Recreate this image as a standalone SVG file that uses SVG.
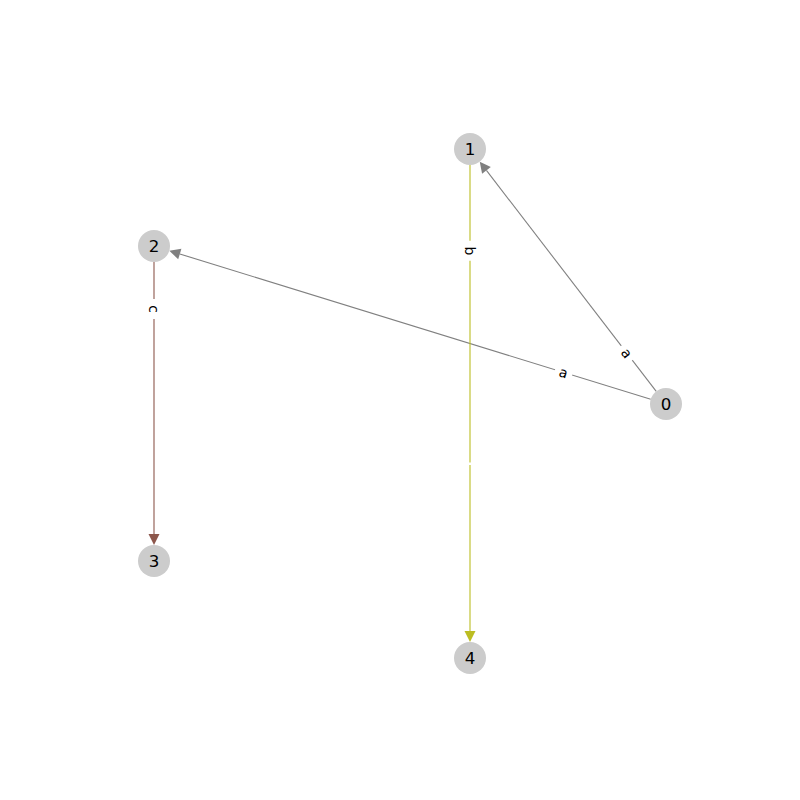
<svg xmlns="http://www.w3.org/2000/svg" width="800" height="800" viewBox="0 0 800 800">
<style>
.node circle{fill:#cccccc;stroke:none}
.node text{font-family:"DejaVu Sans",sans-serif;font-size:16.7px;fill:#000;text-anchor:middle;dominant-baseline:central}
.edge{fill:none;stroke-width:1.1}
.elabel rect{fill:#fff;stroke:none}
.elabel text{font-family:"DejaVu Sans",sans-serif;font-size:13.9px;fill:#000;text-anchor:middle;dominant-baseline:central}
</style>
<defs>
<marker id="ag" markerUnits="userSpaceOnUse" markerWidth="12" markerHeight="12" refX="0" refY="5.5" orient="auto" overflow="visible"><path d="M0,0 L11,5.5 L0,11 z" fill="#808080"/></marker>
<marker id="ay" markerUnits="userSpaceOnUse" markerWidth="12" markerHeight="12" refX="0" refY="5.5" orient="auto" overflow="visible"><path d="M0,0 L11,5.5 L0,11 z" fill="#bcbd22"/></marker>
<marker id="ab" markerUnits="userSpaceOnUse" markerWidth="12" markerHeight="12" refX="0" refY="5.5" orient="auto" overflow="visible"><path d="M0,0 L11,5.5 L0,11 z" fill="#8c564b"/></marker>
</defs>
<rect width="800" height="800" fill="#fff"/>
<g id="edges">
<line class="edge" x1="656.25" y1="391.31" x2="486.45" y2="170.41" stroke="#808080" marker-end="url(#ag)"/>
<line class="edge" x1="650.71" y1="399.28" x2="179.80" y2="253.96" stroke="#808080" marker-end="url(#ag)"/>
<line class="edge" x1="470" y1="165" x2="470" y2="631" stroke="#bcbd22" marker-end="url(#ay)"/>
<line class="edge" x1="154" y1="262" x2="154" y2="534" stroke="#8c564b" marker-end="url(#ab)"/>
<rect x="467.5" y="462.5" width="5" height="2.5" fill="#fff"/>
<g class="elabel" transform="translate(626.8,353) rotate(52.5)"><rect x="-9" y="-10" width="18" height="20" rx="3"/><text x="0" y="0">a</text></g>
<g class="elabel" transform="translate(563.6,372.4) rotate(17.1)"><rect x="-9" y="-10" width="18" height="20" rx="3"/><text x="0" y="0">a</text></g>
<g class="elabel" transform="translate(470,250.8) rotate(90)"><rect x="-10" y="-10" width="20" height="20" rx="3"/><text x="0" y="0">b</text></g>
<g class="elabel" transform="translate(154,309) rotate(90)"><rect x="-10" y="-10" width="20" height="20" rx="3"/><text x="0" y="0">c</text></g>
</g>
<g id="node0" class="node"><circle cx="666" cy="404" r="16"/><text x="666" y="404">0</text></g>
<g id="node1" class="node"><circle cx="470" cy="149" r="16"/><text x="470" y="149">1</text></g>
<g id="node2" class="node"><circle cx="154" cy="246" r="16"/><text x="154" y="246">2</text></g>
<g id="node3" class="node"><circle cx="154" cy="561" r="16"/><text x="154" y="561">3</text></g>
<g id="node4" class="node"><circle cx="470" cy="658" r="16"/><text x="470" y="658">4</text></g>
</svg>
